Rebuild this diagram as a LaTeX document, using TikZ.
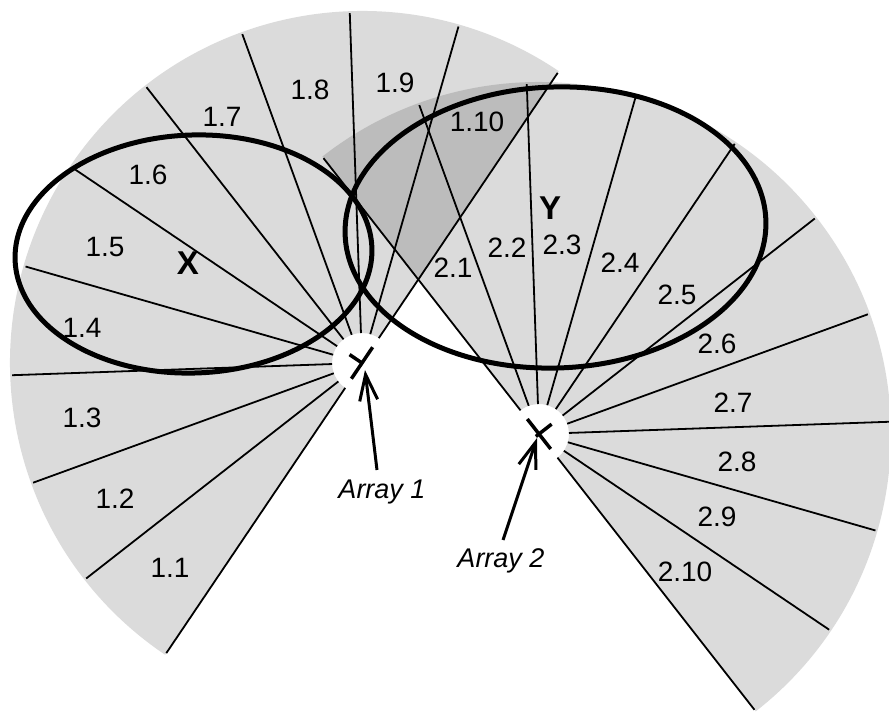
\documentclass[tikz,border=0pt]{standalone}
\usepackage{fontspec}
\setmainfont{Liberation Sans}
\usetikzlibrary{calc,arrows.meta}
\begin{document}
\begin{tikzpicture}[x=1pt,y=1pt,
  fan/.style={fill=black,fill opacity=0.14},
  ray/.style={line width=1.8pt},
  zone/.style={line width=5pt},
  lab/.style={font=\fontsize{28}{32}\selectfont, inner sep=0pt},
  big/.style={font=\fontsize{33}{38}\selectfont\bfseries, inner sep=0pt},
  arrlab/.style={font=\fontsize{27}{31}\selectfont\itshape, inner sep=0pt, anchor=base},
  bar/.style={line width=3.5pt},
  pointer/.style={line width=3pt, -{Straight Barb[length=26pt,width=18pt]}}
]
\useasboundingbox (0,0) rectangle (889,712);
\coordinate (A1) at (362,349);
\coordinate (A2) at (539,278);
% shaded fans
\fill[fan] ($(A1)+(56:30)$) arc[start angle=56,end angle=236,radius=30]
  -- ($(A1)+(236:352)$) arc[start angle=236,end angle=56,radius=352] -- cycle;
\fill[fan] ($(A2)+(-52:30)$) arc[start angle=-52,end angle=128,radius=30]
  -- ($(A2)+(128:352)$) arc[start angle=128,end angle=-52,radius=352] -- cycle;
% rays
\foreach \k in {0,...,10}{
  \coordinate (p1a\k) at ($(A1)+({56+18*\k}:30)$);
  \coordinate (p1b\k) at ($(A1)+({56+18*\k}:350)$);
  \draw[ray] (p1a\k) -- (p1b\k);
  \coordinate (p2a\k) at ($(A2)+({-52+18*\k}:30)$);
  \coordinate (p2b\k) at ($(A2)+({-52+18*\k}:350)$);
  \draw[ray] (p2a\k) -- (p2b\k);
}
% ellipses
\draw[zone, rotate around={2:(193.5,458)}] (193.5,458) ellipse[x radius=178.5, y radius=119];
\draw[zone, rotate around={2:(555.5,484.5)}] (555.5,484.5) ellipse[x radius=210.5, y radius=140.5];
% array markers
\coordinate (m1a) at ($(A1)+(236:19)$);
\coordinate (m1b) at ($(A1)+(56:19)$);
\coordinate (m1c) at ($(A1)+(146:15)$);
\draw[bar] (m1a) -- (m1b);
\draw[bar] (A1) -- (m1c);
\coordinate (m2a) at ($(A2)+(128:19)$);
\coordinate (m2b) at ($(A2)+(-52:19)$);
\coordinate (m2c) at ($(A2)+(218:4)$);
\coordinate (m2d) at ($(A2)+(38:16)$);
\draw[bar] (m2a) -- (m2b);
\draw[bar] (m2c) -- (m2d);
% labels
\node[lab] (l11) at (170,144) {1.1};
\node[lab] (l12) at (115,213) {1.2};
\node[lab] (l13) at (82,294) {1.3};
\node[lab] (l14) at (82,384) {1.4};
\node[lab] (l15) at (105,465) {1.5};
\node[lab] (l16) at (148,537) {1.6};
\node[lab] (l17) at (222,595) {1.7};
\node[lab] (l18) at (310,622) {1.8};
\node[lab] (l19) at (395,629) {1.9};
\node[lab] (l110) at (477,590) {1.10};
\node[big] (lX) at (188,449) {X};
\node[big] (lY) at (550,504) {Y};
\node[lab] (l21) at (453,444) {2.1};
\node[lab] (l22) at (507,464) {2.2};
\node[lab] (l23) at (562,467) {2.3};
\node[lab] (l24) at (620,449) {2.4};
\node[lab] (l25) at (677,417) {2.5};
\node[lab] (l26) at (717,368) {2.6};
\node[lab] (l27) at (733,309) {2.7};
\node[lab] (l28) at (737,250) {2.8};
\node[lab] (l29) at (717,195) {2.9};
\node[lab] (l210) at (685,140) {2.10};
\node[arrlab] (arr1) at (382,213) {Array 1};
\node[arrlab] (arr2) at (501,144) {Array 2};
% pointers
\coordinate (t1) at (377,242);
\coordinate (h1) at (365,342);
\coordinate (t2) at (503,172);
\coordinate (h2) at (537,274);
\draw[pointer] (t1) -- (h1);
\draw[pointer] (t2) -- (h2);
\end{tikzpicture}
\end{document}
